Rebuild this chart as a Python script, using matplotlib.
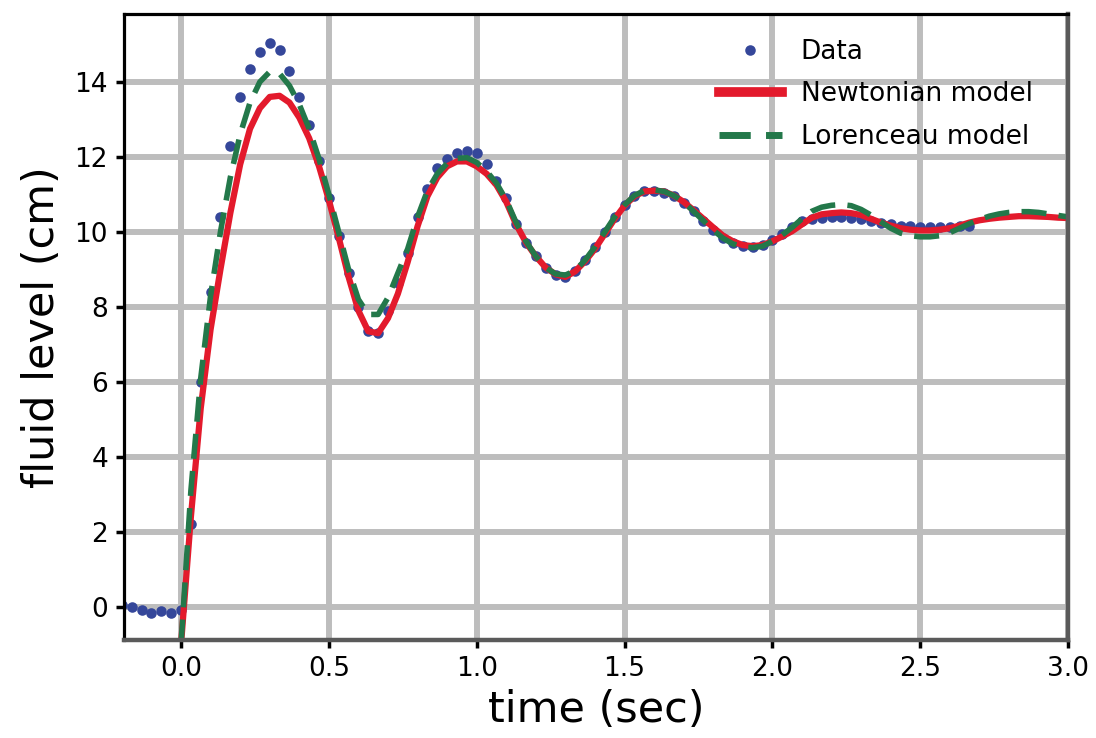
import numpy as np
import matplotlib
matplotlib.use("Agg")
import matplotlib.pyplot as plt

# Measured fluid level, sampled at 30 frames per second
frame_rate = 30.0
data_frames = np.arange(-6, 81)
data_level = [
    0.05, 0.0, -0.08, -0.15, -0.12, -0.15,
    -0.08, 2.2, 6.0, 8.4, 10.4, 12.3, 13.6, 14.35, 14.8, 15.05,
    14.85, 14.3, 13.6, 12.85, 11.9, 10.9, 9.9, 8.9, 8.0, 7.35,
    7.3, 7.9, 8.65, 9.45, 10.4, 11.15, 11.7, 11.95, 12.1, 12.15,
    12.1, 11.8, 11.35, 10.9, 10.2, 9.7, 9.35, 9.05, 8.85, 8.8,
    8.95, 9.25, 9.6, 10.0, 10.4, 10.72, 10.95, 11.08, 11.1, 11.05,
    10.95, 10.78, 10.55, 10.3, 10.05, 9.85, 9.7, 9.62, 9.6, 9.65,
    9.78, 9.95, 10.12, 10.28, 10.35, 10.38, 10.4, 10.4, 10.38, 10.35,
    10.3, 10.25, 10.2, 10.17, 10.15, 10.13, 10.12, 10.12, 10.13, 10.15,
    10.15,
]

# Model predictions on the same frame grid, from t = 0 to 3 s
model_frames = np.arange(0, 91)
newtonian_level = [
    -1.0, 2.4, 5.3, 7.4, 9.0, 10.5, 11.8, 12.75, 13.3, 13.6,
    13.63, 13.45, 13.05, 12.5, 11.75, 10.85, 9.85, 8.8, 7.9, 7.35,
    7.3, 7.7, 8.35, 9.2, 10.15, 10.95, 11.45, 11.75, 11.88, 11.88,
    11.75, 11.55, 11.25, 10.8, 10.2, 9.72, 9.35, 9.05, 8.87, 8.8,
    8.95, 9.22, 9.55, 9.95, 10.35, 10.7, 10.95, 11.08, 11.1, 11.08,
    10.97, 10.8, 10.58, 10.35, 10.12, 9.9, 9.75, 9.65, 9.62, 9.65,
    9.75, 9.88, 10.02, 10.2, 10.38, 10.47, 10.5, 10.52, 10.5, 10.45,
    10.35, 10.25, 10.17, 10.1, 10.06, 10.04, 10.04, 10.06, 10.1, 10.17,
    10.25, 10.31, 10.35, 10.38, 10.4, 10.42, 10.42, 10.41, 10.4, 10.38,
    10.37,
]
lorenceau_level = [
    -1.0, 3.1, 6.1, 8.3, 10.0, 11.45, 12.6, 13.45, 14.0, 14.27,
    14.22, 13.9, 13.4, 12.75, 11.95, 11.0, 10.0, 9.0, 8.2, 7.8,
    7.8, 8.25, 8.9, 9.55, 10.4, 11.1, 11.55, 11.83, 11.96, 11.98,
    11.85, 11.62, 11.3, 10.85, 10.25, 9.75, 9.35, 9.05, 8.88, 8.85,
    8.97, 9.25, 9.6, 10.0, 10.4, 10.72, 10.97, 11.1, 11.12, 11.08,
    10.97, 10.8, 10.55, 10.3, 10.05, 9.83, 9.68, 9.6, 9.58, 9.62,
    9.75, 9.92, 10.12, 10.35, 10.55, 10.66, 10.71, 10.73, 10.7, 10.6,
    10.45, 10.27, 10.1, 9.97, 9.9, 9.87, 9.87, 9.9, 9.98, 10.1,
    10.22, 10.33, 10.42, 10.48, 10.52, 10.54, 10.54, 10.52, 10.48, 10.44,
    10.4,
]

x_ticks = [0.0, 0.5, 1.0, 1.5, 2.0, 2.5, 3.0]
x_tick_labels = ["0.0", "0.5", "1.0", "1.5", "2.0", "2.5", "3.0"]
y_ticks = [0, 2, 4, 6, 8, 10, 12, 14]

data_time = data_frames / frame_rate
model_time = model_frames / frame_rate

plt.rcParams["font.family"] = ["DejaVu Sans"]

fig = plt.figure(figsize=(10.96, 7.38), dpi=100)
ax = fig.add_axes([0.1131, 0.1328, 0.8614, 0.8482])

ax.plot(data_time, data_level, linestyle="none", marker="o", markersize=7.6,
        markeredgewidth=0, color="#35479a", label="Data")
ax.plot(model_time, newtonian_level, color="#e31a2c", linewidth=4.5,
        label="Newtonian model")
ax.plot(model_time, lorenceau_level, color="#23784a", linewidth=4.0,
        linestyle=(0, (4.5, 2.2)), label="Lorenceau model")

ax.set_xlim(-0.193, 3.0)
ax.set_ylim(-0.88, 15.81)
ax.set_xticks(x_ticks)
ax.set_xticklabels(x_tick_labels)
ax.set_yticks(y_ticks)

ax.set_axisbelow(True)
ax.grid(True, color="#bdbdbd", linewidth=4.3)

ax.tick_params(axis="both", which="major", labelsize=19, length=5.5,
               width=2.5, color="black", pad=6, direction="out")

ax.set_xlabel("time (sec)", fontsize=31, labelpad=5)
ax.set_ylabel("fluid level (cm)", fontsize=31, labelpad=8)

for side in ("left", "top"):
    ax.spines[side].set_color("black")
    ax.spines[side].set_linewidth(2.3)
for side in ("bottom", "right"):
    ax.spines[side].set_color("#5a5a5a")
    ax.spines[side].set_linewidth(3.2)

leg = ax.legend(loc="upper right", bbox_to_anchor=(0.989, 1.0), frameon=False,
                fontsize=19, numpoints=1, handlelength=2.4, handletextpad=0.7,
                labelspacing=0.62, borderaxespad=0.55)
leg.legend_handles[1].set_linewidth(7)
leg.legend_handles[2].set_linewidth(5)

fig.savefig("out.png", dpi=100, facecolor="white")
